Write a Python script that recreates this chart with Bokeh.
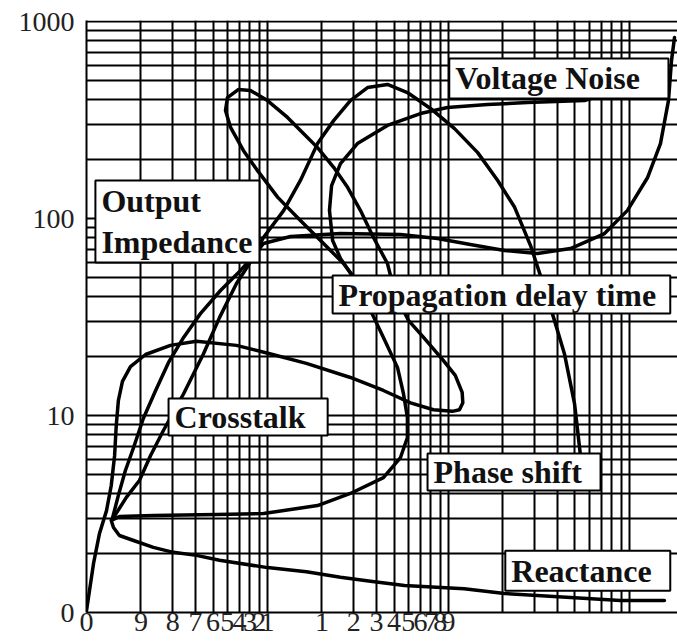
from bokeh.plotting import figure
from bokeh.models import Range1d, FixedTicker
from bokeh.core.properties import value
from bokeh.embed import file_html
from bokeh.resources import INLINE

# ---- data (log-log "graph paper" chart) ----
grid_x = [1, 2, 3, 4, 5, 6, 7, 8, 9, 10, 20, 30, 40, 50, 60, 70, 80, 90, 100,
          200, 300, 400, 500, 600, 700, 800, 900, 1000]
grid_y = grid_x
x_tick_vals = [1, 2, 3, 4, 5, 6, 7, 8, 9, 10, 20, 30, 40, 50, 60, 70, 80, 90, 100]
x_tick_text = ["0", "9", "8", "7", "6", "5", "4", "3", "2", "1",
               "1", "2", "3", "4", "5", "6", "7", "8", "9"]
y_tick_vals = [1, 10, 100, 1000]
y_tick_text = ["0", "10", "100", "1000"]

reactance_x = [1.37, 1.41, 1.52, 1.82, 2.34, 3.02, 4.05, 5.43, 10.0, 16.4, 25.3, 37.1,
               57.1, 122, 204, 472, 892, 1560]
reactance_y = [2.93, 2.70, 2.46, 2.32, 2.14, 2.02, 1.95, 1.84, 1.69, 1.61, 1.51, 1.44,
               1.37, 1.32, 1.25, 1.19, 1.15, 1.15]

crosstalk_x = [1.0, 1.093, 1.18, 1.29, 1.37, 1.43, 1.46, 1.50, 1.58, 1.75, 2.12, 2.91,
               4.05, 6.74, 10.3, 16.4, 28.7, 43.7, 61.7, 82.6, 105, 115, 120, 119, 109,
               93.8, 72.8, 60.1, 52.9]
crosstalk_y = [1.02, 1.77, 2.52, 3.29, 4.41, 6.27, 8.90, 11.9, 14.9, 17.7, 20.4, 22.7,
               23.8, 22.7, 20.6, 18.4, 15.6, 13.4, 11.6, 10.7, 10.5, 10.7, 11.6, 13.1,
               16.0, 19.0, 24.9, 30.4, 38.4]

delay_x = [51.0, 46.0, 38.5, 32.6, 27.7, 23.2, 18.9, 15.8, 12.9, 10.0, 8.05, 6.92, 6.01,
           5.86, 6.25, 7.37, 8.81, 11.4, 15.2, 20.4, 26.3, 32.6]
delay_y = [40.6, 59.1, 80.1, 110, 144, 182, 229, 270, 326, 397, 447, 452, 411,
           353, 290, 221, 175, 128, 97.7, 74.7, 59.1, 45.7]

noise_x = [692, 564, 273, 164, 98.7, 70.0, 46.0, 31.4, 25.3, 22.6, 22.0, 22.9, 25.3,
           30.6, 37.1, 43.7, 52.3, 56.4, 59.3, 59.3, 54.3, 43.7, 28.7, 18.9, 9.50,
           5.23, 2.34, 1.52, 1.41]
noise_y = [421, 397, 388, 379, 366, 341, 297, 240, 190, 147, 110, 77.3, 62.7,
           48.4, 34.1, 24.9, 17.5, 12.9, 9.77, 7.73, 6.12, 4.84, 4.02, 3.49, 3.18,
           3.14, 3.11, 3.07, 2.97]

phase_x = [1.41, 1.66, 1.96, 2.26, 2.66, 3.44, 4.43, 5.43, 6.74, 7.95, 8.69, 9.50,
           12.3, 15.2, 18.9, 23.2, 28.7, 35.7, 46.0, 59.3, 79.5, 108, 145, 187, 232,
           284, 322, 385, 437, 497, 536]
phase_y = [3.03, 3.84, 4.68, 6.27, 8.39, 12.9, 20.6, 31.4, 46.8, 59.1, 68.8, 80.1,
           110, 156, 240, 314, 397, 462, 479, 436, 362, 286, 216, 156, 114,
           72.9, 51.4, 30.4, 20.6, 11.5, 6.27]

impedance_x = [1.39, 1.50, 1.64, 1.82, 2.06, 2.41, 2.84, 3.44, 4.26, 5.50, 7.10, 8.59,
               9.50, 13.4, 25.3, 54.3, 86.9, 132, 204, 310, 472, 728, 975,
               1257, 1483, 1642, 1707, 1773]
impedance_y = [3.00, 3.93, 5.26, 6.88, 9.66, 13.4, 18.6, 24.9, 32.9, 43.1, 54.5, 66.4,
               74.7, 81.0, 83.9, 82.9, 79.1, 73.8, 68.8, 66.4, 70.4, 83.9, 110,
               161, 240, 397, 634, 829]

label_text = ["Voltage Noise", "Output\nImpedance", "Propagation delay time",
              "Crosstalk", "Phase shift", "Reactance"]
label_left = [101, 1.12, 22.9, 2.84, 76.6, 206]
label_right = [1642, 9.03, 1680, 21.5, 692, 1680]
label_top = [649, 156, 51.4, 12.2, 6.41, 2.06]
label_bottom = [407, 59.8, 32.9, 7.92, 4.16, 1.29]

# ---- figure ----
p = figure(width=677, height=643, x_axis_type="log", y_axis_type="log",
           x_range=Range1d(1, 1842), y_range=Range1d(1, 1012),
           output_backend="svg", toolbar_location=None,
           min_border_left=86, min_border_top=20, min_border_right=0,
           min_border_bottom=31,
           background_fill_color="white", border_fill_color="white")
p.outline_line_color = None

for g, vals in ((p.xgrid, grid_x), (p.ygrid, grid_y)):
    g.ticker = FixedTicker(ticks=vals, minor_ticks=[])
    g.grid_line_color = "black"
    g.grid_line_width = 2
    g.grid_line_alpha = 1.0

serif = "Liberation Serif"
p.xaxis.ticker = FixedTicker(ticks=x_tick_vals, minor_ticks=[])
p.xaxis.major_label_overrides = {v: t for v, t in zip(x_tick_vals, x_tick_text)}
p.yaxis.ticker = FixedTicker(ticks=y_tick_vals, minor_ticks=[])
p.yaxis.major_label_overrides = {v: t for v, t in zip(y_tick_vals, y_tick_text)}
for ax in (p.xaxis, p.yaxis):
    ax.axis_line_color = "black"
    ax.axis_line_width = 2
    ax.major_tick_line_color = None
    ax.minor_tick_line_color = None
    ax.major_tick_out = 0
    ax.major_tick_in = 0
    ax.major_label_text_font = serif
    ax.major_label_text_font_size = "28px"
    ax.major_label_text_color = "#222222"
p.xaxis.major_label_standoff = 0
p.yaxis.major_label_standoff = 12

curves = [(reactance_x, reactance_y), (crosstalk_x, crosstalk_y), (delay_x, delay_y),
          (noise_x, noise_y), (phase_x, phase_y), (impedance_x, impedance_y)]
for cx, cy in curves:
    p.line(cx, cy, line_color="black", line_width=3.5, line_join="round",
           line_cap="round")

p.quad(left=label_left, right=label_right, top=label_top, bottom=label_bottom,
       fill_color="white", line_color="black", line_width=2)

label_mid = [(t * b) ** 0.5 for t, b in zip(label_top, label_bottom)]
p.text(x=label_left, y=label_mid, text=label_text, x_offset=6,
       text_font=value(serif), text_font_style="bold", text_font_size="32px",
       text_baseline="middle", text_align="left", text_color="#111111",
       text_line_height=1.15)

open("out.html", "w").write(file_html(p, INLINE))
